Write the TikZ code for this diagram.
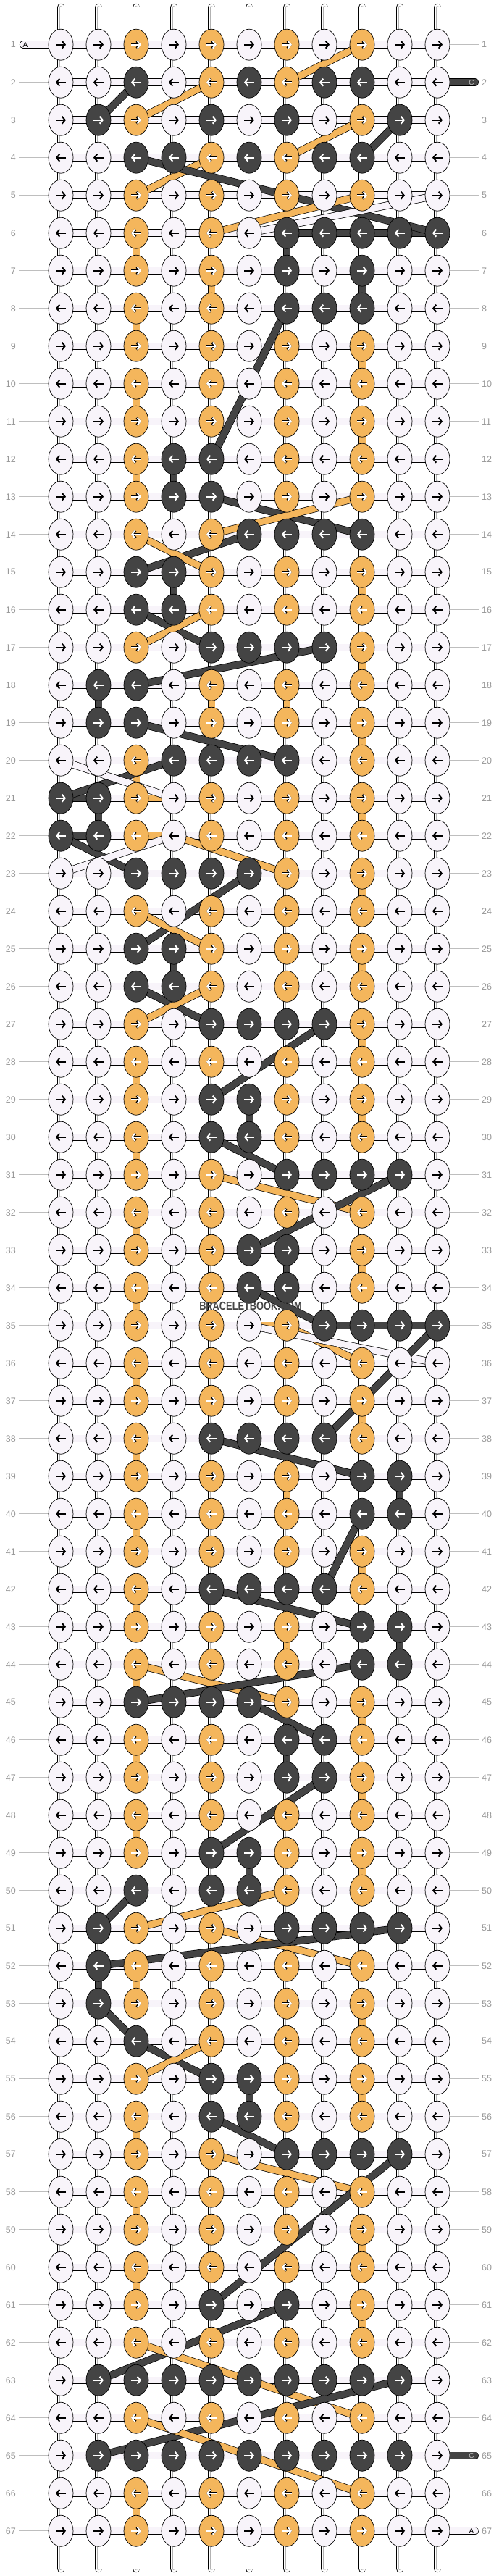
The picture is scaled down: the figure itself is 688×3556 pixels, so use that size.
\documentclass[tikz,border=0pt]{standalone}
\usepackage{fontspec}
\setmainfont{Liberation Sans}
\usetikzlibrary{arrows.meta,shapes.geometric}

\definecolor{lite}{RGB}{248,244,250}
\definecolor{gold}{RGB}{244,182,92}
\definecolor{dark}{RGB}{68,68,68}
\definecolor{numgray}{RGB}{153,153,153}
\definecolor{rulegray}{RGB}{190,190,190}

\pgfdeclarelayer{strands}
\pgfdeclarelayer{floats}
\pgfsetlayers{strands,floats,main}

\tikzset{knot/.style={ellipse, draw=black, line width=0.7pt, minimum width=34pt, minimum height=43pt, inner sep=0pt},
  kw/.style={knot, fill=lite},
  ko/.style={knot, fill=gold},
  kd/.style={knot, fill=dark},
  arrow/.style={line width=2pt, -{Straight Barb[length=4pt,width=10pt]}},
  aw/.style={arrow, black},
  ao/.style={arrow, white, preaction={draw=black, line width=3.4pt}},
  ad/.style={arrow, white},
  strand/.style={line width=0.7pt, double=white, double distance=9pt, line cap=round},
  core/.style={draw=black!30, line width=0.5pt, double=white, double distance=3pt, line cap=round},
  weft/.style={line width=0.7pt, double=lite, double distance=9pt},
  band/.style={line width=0.7pt, double distance=9pt},
  bd/.style={band, double=dark},
  bo/.style={band, double=gold},
  bw/.style={band, double=lite},
  rowno/.style={text=numgray, font=\fontsize{12.5}{14}\selectfont, inner sep=0pt},
  rule/.style={draw=rulegray, line width=0.8pt},
  pilltext/.style={font=\fontsize{10}{12}\selectfont, inner sep=0pt}}

\begin{document}
\begin{tikzpicture}[x=1pt,y=-1pt]
\useasboundingbox (0,0) rectangle (688,3556);

% knots, row by row
\foreach \r/\row in {
  1/{w,w,o,w,o,w,o,w,o,w,w}, 2/{w,w,d,w,o,d,o,d,d,w,w}, 3/{w,d,o,w,d,w,d,w,o,d,w},
  4/{w,w,d,d,o,d,o,d,d,w,w}, 5/{w,w,o,w,o,w,o,w,o,w,w}, 6/{w,w,o,w,o,w,d,d,d,d,d},
  7/{w,w,o,w,o,w,d,w,d,w,w}, 8/{w,w,o,w,o,w,d,d,d,w,w}, 9/{w,w,o,w,o,w,o,w,o,w,w},
  10/{w,w,o,w,o,w,o,w,o,w,w}, 11/{w,w,o,w,o,w,o,w,o,w,w}, 12/{w,w,o,d,d,w,o,w,o,w,w},
  13/{w,w,o,d,d,w,o,w,o,w,w}, 14/{w,w,o,w,o,d,d,d,d,w,w}, 15/{w,w,d,d,o,w,o,w,o,w,w},
  16/{w,w,d,d,o,w,o,w,o,w,w}, 17/{w,w,o,w,d,d,d,d,o,w,w}, 18/{w,d,d,w,o,w,o,w,o,w,w},
  19/{w,d,d,w,o,w,o,w,o,w,w}, 20/{w,w,o,d,d,d,d,w,o,w,w}, 21/{d,d,o,w,o,w,o,w,o,w,w},
  22/{d,d,o,w,o,w,o,w,o,w,w}, 23/{w,w,d,d,d,d,o,w,o,w,w}, 24/{w,w,o,w,o,w,o,w,o,w,w},
  25/{w,w,d,d,o,w,o,w,o,w,w}, 26/{w,w,d,d,o,w,o,w,o,w,w}, 27/{w,w,o,w,d,d,d,d,o,w,w},
  28/{w,w,o,w,o,w,o,w,o,w,w}, 29/{w,w,o,w,d,d,o,w,o,w,w}, 30/{w,w,o,w,d,d,o,w,o,w,w},
  31/{w,w,o,w,o,w,d,d,d,d,w}, 32/{w,w,o,w,o,w,o,w,o,w,w}, 33/{w,w,o,w,o,d,d,w,o,w,w},
  34/{w,w,o,w,o,d,d,w,o,w,w}, 35/{w,w,o,w,o,w,o,d,d,d,d}, 36/{w,w,o,w,o,w,o,w,o,w,w},
  37/{w,w,o,w,o,w,o,w,o,w,w}, 38/{w,w,o,w,d,d,d,d,o,w,w}, 39/{w,w,o,w,o,w,o,w,d,d,w},
  40/{w,w,o,w,o,w,o,w,d,d,w}, 41/{w,w,o,w,o,w,o,w,o,w,w}, 42/{w,w,o,w,d,d,d,d,o,w,w},
  43/{w,w,o,w,o,w,o,w,d,d,w}, 44/{w,w,o,w,o,w,o,w,d,d,w}, 45/{w,w,d,d,d,d,o,w,o,w,w},
  46/{w,w,o,w,o,w,d,d,o,w,w}, 47/{w,w,o,w,o,w,d,d,o,w,w}, 48/{w,w,o,w,o,w,o,w,o,w,w},
  49/{w,w,o,w,d,d,o,w,o,w,w}, 50/{w,w,d,w,d,d,o,w,o,w,w}, 51/{w,d,o,w,o,w,d,d,d,d,w},
  52/{w,d,o,w,o,w,o,w,o,w,w}, 53/{w,d,o,w,o,w,o,w,o,w,w}, 54/{w,w,d,w,o,w,o,w,o,w,w},
  55/{w,w,o,w,d,d,o,w,o,w,w}, 56/{w,w,o,w,d,d,o,w,o,w,w}, 57/{w,w,o,w,o,w,d,d,d,d,w},
  58/{w,w,o,w,o,w,o,w,o,w,w}, 59/{w,w,o,w,o,w,o,w,o,w,w}, 60/{w,w,o,w,o,w,o,w,o,w,w},
  61/{w,w,o,w,d,w,d,w,o,w,w}, 62/{w,w,o,w,o,w,o,w,o,w,w}, 63/{w,d,d,d,d,d,d,d,d,d,w},
  64/{w,w,o,w,o,w,o,w,o,w,w}, 65/{w,d,d,d,d,d,d,d,d,d,w}, 66/{w,w,o,w,o,w,o,w,o,w,w},
  67/{w,w,o,w,o,w,o,w,o,w,w}}{
  \foreach \k [count=\c] in \row {
    \node[k\k] (k-\r-\c) at ({84+52*(\c-1)},{61.7+52*(\r-1)}) {};
    \ifodd\r
      \draw[a\k] ([xshift=-7pt]k-\r-\c.center) -- ([xshift=7pt]k-\r-\c.center);
    \else
      \draw[a\k] ([xshift=7pt]k-\r-\c.center) -- ([xshift=-7pt]k-\r-\c.center);
    \fi
  }
}

% strands and rows behind the knots
\begin{pgfonlayer}{strands}
  \fill[white] (0,0) rectangle (688,3556);
  \foreach \c in {1,...,11}{
    \coordinate (t-\c) at ({84+52*(\c-1)},10);
    \coordinate (b-\c) at ({84+52*(\c-1)},3546);
    \draw[strand] (t-\c) -- (b-\c);
    \draw[core] (t-\c) -- (b-\c);
  }
  \coordinate (pa-1) at (32,61.7);
  \draw[weft, line cap=round] (pa-1) -- (k-1-11.center);
  \foreach \r in {2,...,67}
    \draw[weft] (k-\r-1.center) -- (k-\r-11.center);
  \coordinate (pc-2) at (656,113.7);
  \coordinate (pc-65) at (656,3389.7);
  \coordinate (pa-67) at (656,3493.7);
  \draw[weft, double=dark, line cap=round] (k-2-11.center) -- (pc-2);
  \draw[weft, double=dark, line cap=round] (k-65-11.center) -- (pc-65);
  \draw[weft, line cap=round] (k-67-11.center) -- (pa-67);
  % row numbers
  \foreach \r in {1,...,67}{
    \node[rowno, anchor=east] (ln-\r) at (22,{61.7+52*(\r-1)}) {\r};
    \node[rowno, anchor=west] (rn-\r) at (665,{61.7+52*(\r-1)}) {\r};
  }
  \foreach \r in {2,...,67}{
    \coordinate (lr-\r) at (26,{61.7+52*(\r-1)});
    \draw[rule] (lr-\r) -- (k-\r-1.west);
  }
  \foreach \r in {1,3,4,5,6,7,8,9,10,11,12,13,14,15,16,17,18,19,20,21,22,23,24,25,26,27,28,29,30,
                  31,32,33,34,35,36,37,38,39,40,41,42,43,44,45,46,47,48,49,50,51,52,53,54,55,56,
                  57,58,59,60,61,62,63,64,66}{
    \coordinate (rr-\r) at (662,{61.7+52*(\r-1)});
    \draw[rule] (k-\r-11.east) -- (rr-\r);
  }
\end{pgfonlayer}

\node[pilltext] (la-1) at (35,61.7) {A};
\node[pilltext, text=black!25] (lc-2) at (651,113.7) {C};
\node[pilltext, text=black!25] (lc-65) at (651,3389.7) {C};
\node[pilltext] (la-67) at (651,3493.7) {A};

% floats between knots
\begin{pgfonlayer}{floats}
  % straight runs of colour
  \foreach \c/\r in {3/6,3/8,3/10,3/12,3/20,3/28,3/30,3/32,3/34,3/36,3/38,3/40,3/42,3/44,3/46,3/48,
                     3/52,3/56,3/58,3/60,3/66,9/9,9/11,9/15,9/17,9/19,9/21,9/23,9/25,9/27,9/29,9/33,
                     9/37,9/41,9/45,9/47,9/49,9/53,9/55,9/59,9/61,5/7,5/18,7/18,7/39,7/43}{
    \pgfmathtruncatemacro\n{\r+1}
    \draw[bo] (k-\r-\c.center) -- (k-\n-\c.center);
  }
  \foreach \c/\r in {7/6,9/7,4/12,4/15,2/18,2/21,4/25,6/29,7/33,10/39,10/43,7/46,6/49,2/52,6/55}{
    \pgfmathtruncatemacro\n{\r+1}
    \draw[bd] (k-\r-\c.center) -- (k-\n-\c.center);
  }
  \draw[bd] (k-6-7.center) -- (k-6-11.center);
  \draw[bd] (k-21-1.center) -- (k-21-2.center);
  \draw[bd] (k-22-1.center) -- (k-22-2.center);
  \draw[bd] (k-35-8.center) -- (k-35-11.center);
  \draw[bo] (k-21-3.center) -- (k-21-4.center);
  \draw[bo] (k-22-3.center) -- (k-22-4.center);
  \draw[bo] (k-35-6.center) -- (k-35-7.center);
  % diagonal floats
  \foreach \col/\ra/\ca/\rb/\cb in {
    o/1/9/2/7, d/2/3/3/2, o/2/5/3/3, o/3/9/4/7, d/3/10/4/9, o/4/5/5/3, d/4/3/6/11, o/5/9/6/5,
    w/5/11/6/6, d/8/7/12/5, d/13/5/14/9, o/13/9/14/5, d/14/6/15/3, o/14/3/15/5, d/16/3/17/5,
    o/16/5/17/3, d/17/8/18/3, d/19/3/20/7, d/20/4/21/1, w/20/1/21/4, d/22/1/23/3, w/23/1/22/4,
    o/22/4/23/7, d/23/6/25/3, o/24/3/25/5, d/26/3/27/5, o/26/5/27/3, d/27/8/29/5, d/30/5/31/7,
    o/31/5/32/9, d/31/10/33/6, d/34/6/35/8, o/35/7/36/9, w/35/6/36/11, d/35/11/38/8,
    d/38/5/39/9, d/40/9/42/8, d/42/5/43/9, o/44/3/45/7, d/44/9/45/3, d/45/6/46/8, d/47/8/49/5,
    o/50/7/51/3, d/50/3/51/2, o/51/5/52/9, d/51/10/52/2, d/53/2/54/3, d/54/3/55/5, o/54/5/55/3,
    d/56/5/57/7, o/57/5/58/9, d/57/10/61/5, d/61/7/63/2, o/62/3/64/9, d/63/10/65/2, o/64/3/66/9}
    \draw[b\col] (k-\ra-\ca.center) -- (k-\rb-\cb.center);
\end{pgfonlayer}

\node[text=dark, font=\bfseries\fontsize{16}{18}\selectfont, inner sep=0pt] (wm) at (346,1803)
  {\scalebox{0.8}[1]{BRACELETBOOK.COM}};
\end{tikzpicture}
\end{document}
